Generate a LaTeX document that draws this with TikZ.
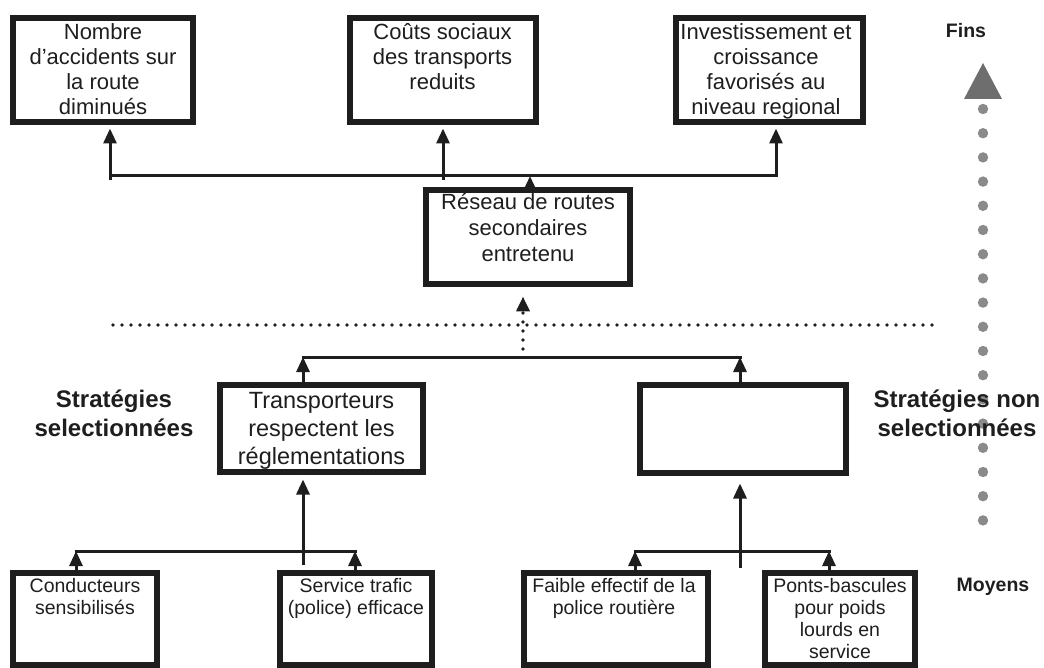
\documentclass[tikz,border=0pt]{standalone}
\usepackage{fontspec}
\setmainfont{Liberation Sans}
\usetikzlibrary{arrows.meta}
\definecolor{dotgray}{HTML}{8A8A8A}
\definecolor{trigray}{HTML}{6E6E6E}
\definecolor{ink}{HTML}{1E1E1E}
\begin{document}
\begin{tikzpicture}[x=1pt,y=-1pt,
  box/.style={draw=ink, line width=6pt, inner sep=0pt, outer sep=0pt},
  txt/.style={inner sep=0pt, outer sep=0pt, align=center, anchor=north, text=ink},
  ftop/.style={font=\fontsize{22}{25}\selectfont},
  fres/.style={font=\fontsize{22}{26}\selectfont},
  ftra/.style={font=\fontsize{23.5}{28}\selectfont},
  fbot/.style={font=\fontsize{19.5}{22}\selectfont},
  lab/.style={inner sep=0pt, outer sep=0pt, align=center, anchor=north, text=ink, font=\bfseries\fontsize{24}{28.5}\selectfont},
  side/.style={inner sep=0pt, outer sep=0pt, anchor=base, text=ink, font=\bfseries\fontsize{19.5}{23}\selectfont},
  conn/.style={draw=ink, line width=3pt},
  arr/.style={draw=ink, line width=3pt, -{Triangle[width=13pt,length=15pt]}},
  dotl/.style={draw=ink, line width=3.8pt, line cap=round, dash pattern=on 0pt off 9pt}
]
\useasboundingbox (0,0) rectangle (1044,668);

% --- boxes ---
\node[box, minimum width=180pt, minimum height=104pt] (b1) at (103,70) {};
\node[box, minimum width=186pt, minimum height=104pt] (b2) at (442.5,70) {};
\node[box, minimum width=187pt, minimum height=104pt] (b3) at (769,70) {};
\node[box, minimum width=204pt, minimum height=94pt] (reseau) at (528,237) {};
\node[box, minimum width=203pt, minimum height=87pt] (trans) at (321.5,428.5) {};
\node[box, minimum width=206pt, minimum height=88pt] (empty) at (743,429) {};
\node[box, minimum width=144pt, minimum height=92pt] (cond) at (85,619) {};
\node[box, minimum width=152pt, minimum height=92pt] (serv) at (356,619) {};
\node[box, minimum width=184pt, minimum height=92pt] (faible) at (616,619) {};
\node[box, minimum width=150pt, minimum height=92pt] (ponts) at (840,619) {};

% --- box texts ---
\node[txt, ftop] (t1) at (103,22.5) {\strut Nombre\\d’accidents sur\\la route\\diminués};
\node[txt, ftop] (t2) at (442.5,22.5) {\strut Coûts sociaux\\des transports\\reduits};
\node[txt, ftop] (t3) at (766,22.5) {\strut Investissement et\\croissance\\favorisés au\\niveau regional};
\node[txt, fres] (tr) at (528,191.8) {\strut Réseau de routes\\secondaires\\entretenu};
\node[txt, ftra] (tt) at (321.5,388.4) {\strut Transporteurs\\respectent les\\réglementations};
\node[txt, fbot] (tc) at (85,576.6) {\strut Conducteurs\\sensibilisés};
\node[txt, fbot] (ts) at (356,576.6) {\strut Service trafic\\(police) efficace};
\node[txt, fbot] (tf) at (614,576.6) {\strut Faible effectif de la\\police routière};
\node[txt, fbot] (tp) at (840,576.6) {\strut Ponts-bascules\\pour poids\\lourds en\\service};

% --- top connectors ---
\coordinate (jTa) at (110,176);
\coordinate (jTm) at (443,176);
\coordinate (jTr) at (530,176);
\coordinate (jTb) at (776,176);
\draw[conn] (jTa) -- (jTb);
\draw[arr, shorten >=6.5pt] ([yshift=-4pt]jTa) -- (b1.south -| jTa);
\draw[arr, shorten >=6.5pt] ([yshift=-4pt]jTm) -- (b2.south -| jTm);
\draw[arr, shorten >=6.5pt] ([yshift=-1.5pt]jTb) -- (b3.south -| jTb);
\draw[arr] (reseau.north -| jTr) -- (jTr);

% --- dotted separator and dotted arrow ---
\coordinate (dl) at (113,325);
\coordinate (dr) at (940,325);
\draw[dotl] (dl) -- (dr);
\coordinate (jM) at (523,349);
\draw[dotl, -{Triangle[width=13pt,length=15pt]}, shorten >=12.5pt] (jM) -- (reseau.south -| jM);

% --- middle connectors ---
\coordinate (jL) at (303,357);
\coordinate (jR) at (740,357);
\draw[conn] ([xshift=-1.5pt]jL) -- ([xshift=1.5pt]jR);
\draw[arr] (trans.north -| jL) -- (jL);
\draw[arr] (empty.north -| jR) -- (jR);

% --- bottom left ---
\coordinate (bl1) at (76,551);
\coordinate (bl2) at (355,551);
\coordinate (bl0) at (303,565);
\draw[conn] ([xshift=-1.5pt]bl1) -- ([xshift=1.5pt]bl2);
\draw[arr] (cond.north -| bl1) -- (bl1);
\draw[arr] (serv.north -| bl2) -- (bl2);
\draw[arr, shorten >=7.5pt] (bl0) -- (trans.south -| bl0);

% --- bottom right ---
\coordinate (br1) at (635,551);
\coordinate (br2) at (829,551);
\coordinate (br0) at (740,568);
\draw[conn] ([xshift=-1.5pt]br1) -- ([xshift=1.5pt]br2);
\draw[arr] (faible.north -| br1) -- (br1);
\draw[arr] (ponts.north -| br2) -- (br2);
\draw[arr, shorten >=10.5pt] (br0) -- (empty.south -| br0);

% --- right scale: triangle and dots ---
\fill[trigray] (983,63) -- (1002,99) -- (964,99) -- cycle;
\foreach \k in {0,...,17} \fill[dotgray] (983,{109+24.2*\k}) circle (5.2pt);

% --- labels ---
\node[lab] (sel) at (114,388) {\strut Stratégies\\selectionnées};
\node[lab] (nsel) at (957,388) {\strut Stratégies non\\selectionnées};
\node[side] (fins) at (966,38) {Fins};
\node[side] (moy) at (993,591) {Moyens};
\end{tikzpicture}
\end{document}
